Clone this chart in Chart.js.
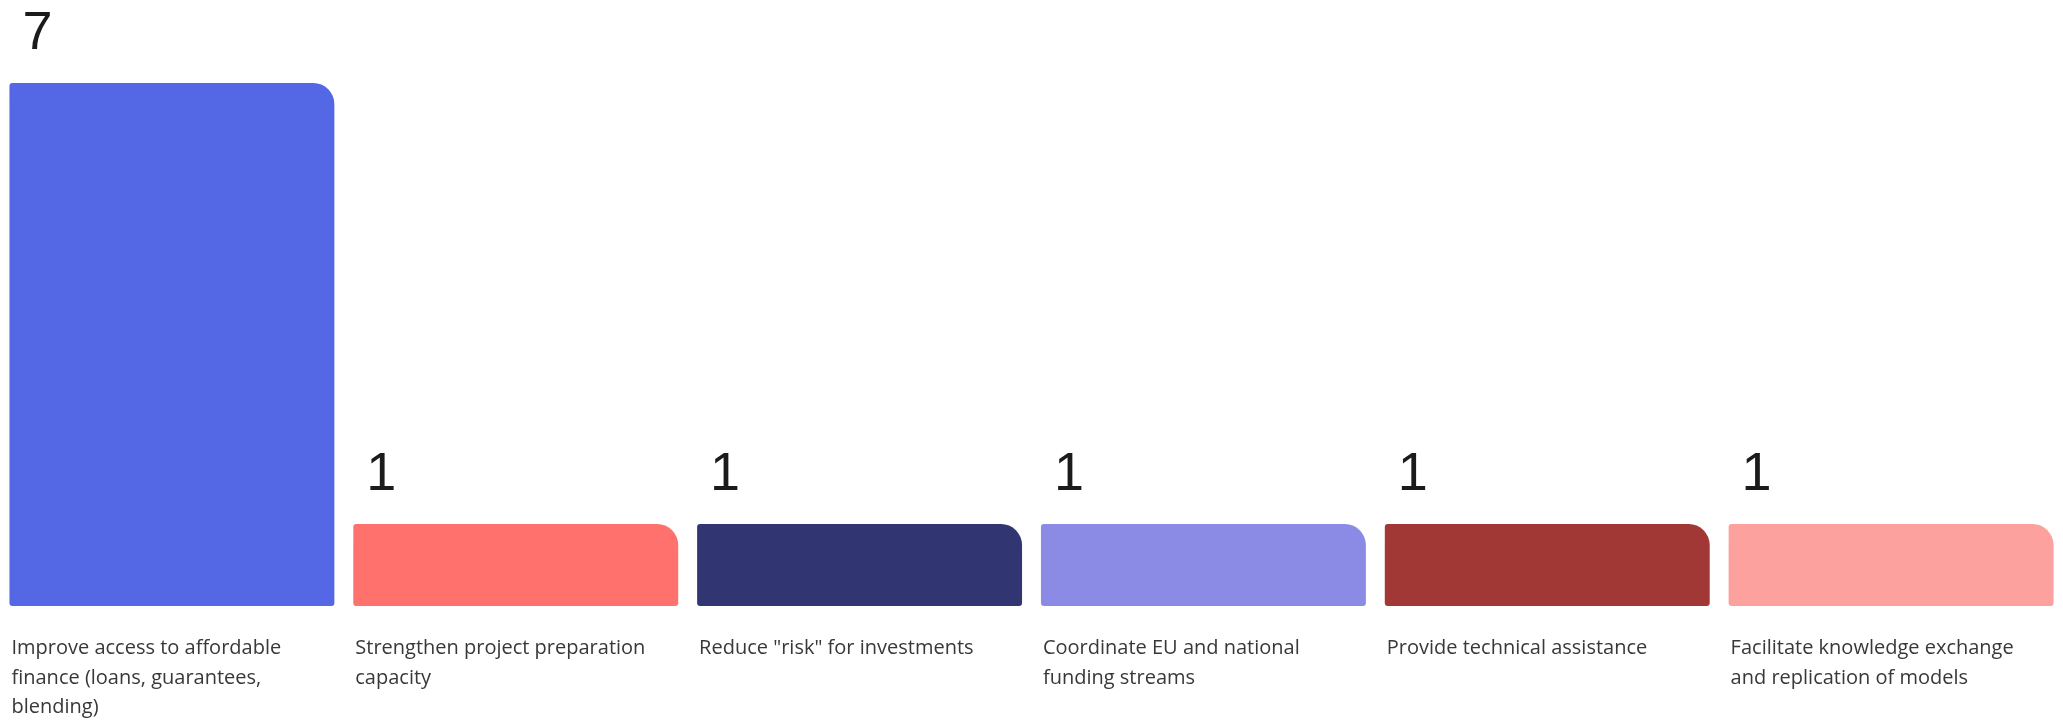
<!DOCTYPE html>
<html>
<head>
<meta charset="utf-8">
<script src="https://cdn.jsdelivr.net/npm/chart.js@4.4.1/dist/chart.umd.min.js"></script>
<style>
  html, body { margin: 0; padding: 0; background: #fff; }
  #chart { display: block; }
</style>
</head>
<body>
<canvas id="chart" width="2063" height="720"></canvas>
<script>
// Kategorier (opdelt i linjer som på billedet)
const categories = [
  ['Improve access to affordable', 'finance (loans, guarantees,', 'blending)'],
  ['Strengthen project preparation', 'capacity'],
  ['Reduce "risk" for investments'],
  ['Coordinate EU and national', 'funding streams'],
  ['Provide technical assistance'],
  ['Facilitate knowledge exchange', 'and replication of models']
];
const counts = [7, 1, 1, 1, 1, 1];
const barColors = ['#5468E6', '#FF716D', '#313672', '#8B8BE6', '#A23835', '#FCA19E'];

// Plugin: tal over søjlerne og kategoritekst under dem, venstrestillet ved søjlens kant
const barTexts = {
  id: 'barTexts',
  afterDatasetsDraw(chart) {
    const { ctx } = chart;
    const meta = chart.getDatasetMeta(0);
    const base = chart.scales.y.getPixelForValue(chart.data.datasets[0].base);
    ctx.save();
    ctx.textAlign = 'left';
    ctx.textBaseline = 'alphabetic';
    meta.data.forEach((bar, i) => {
      const left = bar.x - bar.width / 2;
      ctx.fillStyle = '#1b1b1b';
      ctx.font = '54px "Liberation Sans", Arial, sans-serif';
      ctx.fillText(String(counts[i]), left + 13, bar.y - 34);

      ctx.fillStyle = '#383838';
      ctx.font = '20px "Open Sans", sans-serif';
      categories[i].forEach((line, j) => {
        ctx.fillText(line, left + 2, base + 48 + j * 29.5);
      });
    });
    ctx.restore();
  }
};

new Chart(document.getElementById('chart'), {
  type: 'bar',
  data: {
    labels: categories,
    datasets: [{
      data: counts,
      base: -0.116,
      backgroundColor: barColors,
      borderWidth: 0,
      borderSkipped: false,
      borderRadius: { topLeft: 3, topRight: 21, bottomLeft: 3, bottomRight: 3 },
      barPercentage: 0.945,
      categoryPercentage: 1
    }]
  },
  options: {
    responsive: false,
    devicePixelRatio: 1,
    animation: false,
    layout: { padding: { top: 83, bottom: 114, left: 0, right: 0 } },
    plugins: { legend: { display: false }, tooltip: { enabled: false } },
    scales: {
      x: { display: false },
      y: { display: false, min: -0.116, max: 7 }
    }
  },
  plugins: [barTexts]
});
</script>
</body>
</html>
